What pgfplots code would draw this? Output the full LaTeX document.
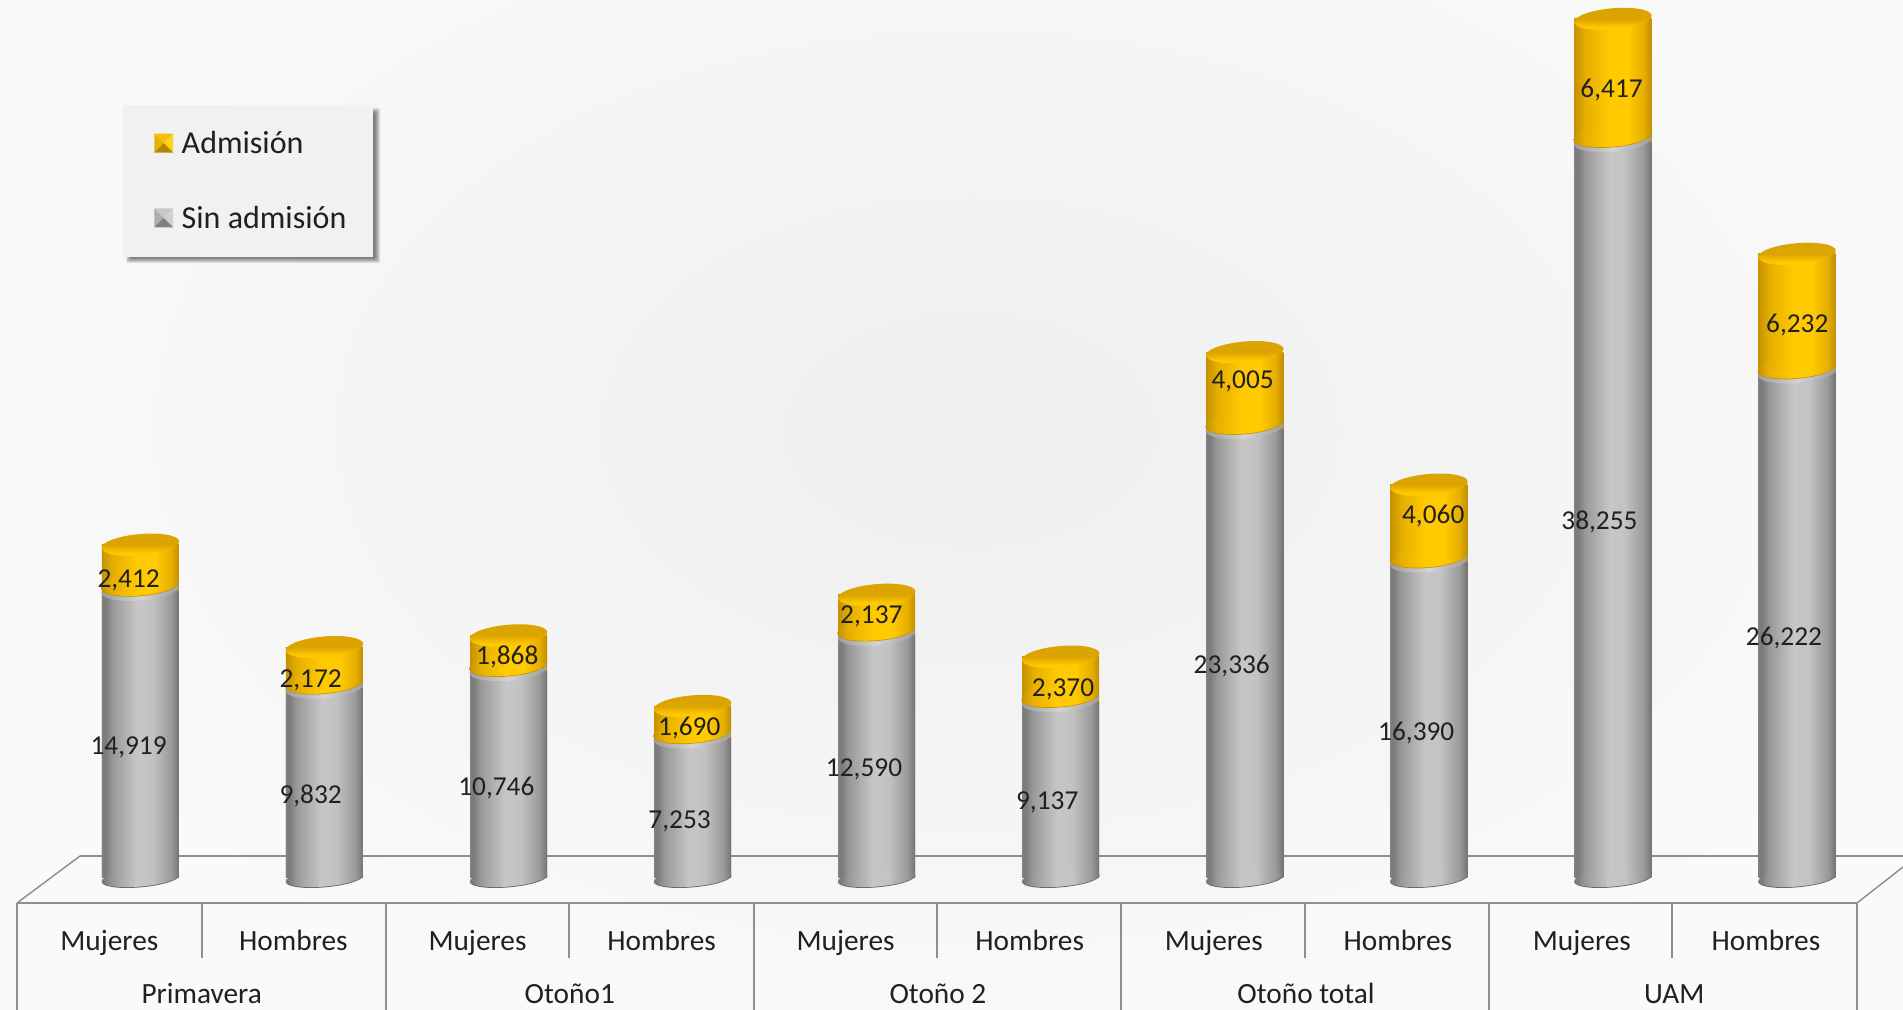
\documentclass[border=0pt]{standalone}
\usepackage{pgfplots}
\usepackage{pgfplotstable}
\usepackage{fontspec}
\setmainfont{Carlito}
\pgfplotsset{compat=1.18}
\definecolor{txt}{HTML}{202020}
\definecolor{ln}{HTML}{8F8F8F}
\pgfdeclarehorizontalshading{greyh}{100bp}{color(0bp)=(black!50);color(25bp)=(black!50);color(27bp)=(black!52);color(32bp)=(black!40);color(48bp)=(black!22);color(58bp)=(black!24);color(70bp)=(black!40);color(75bp)=(black!55);color(100bp)=(black!55)}
\definecolor{g1}{HTML}{C49200}\definecolor{g2}{HTML}{E6AE00}\definecolor{g3}{HTML}{FFCA00}\definecolor{g4}{HTML}{C08E00}
\pgfdeclarehorizontalshading{goldh}{100bp}{color(0bp)=(g1);color(25bp)=(g1);color(32bp)=(g2);color(48bp)=(g3);color(60bp)=(g3);color(70bp)=(g2);color(75bp)=(g4);color(100bp)=(g4)}
\definecolor{t1}{HTML}{DCA400}\definecolor{t2}{HTML}{FFC800}
\pgfdeclareverticalshading{goldtop}{100bp}{color(0bp)=(t2);color(25bp)=(t2);color(34bp)=(t2);color(50bp)=(t1);color(75bp)=(t1);color(100bp)=(t1)}
\definecolor{r1}{HTML}{9C9C9C}\definecolor{r2}{HTML}{D4D4D4}
\pgfdeclarehorizontalshading{rimh}{100bp}{color(0bp)=(r1);color(25bp)=(r1);color(50bp)=(r2);color(75bp)=(r1);color(100bp)=(r1)}
% cylinder caps, placed by pgfplots at the data points
\newcommand{\capell}[3]{\pgfscope\pgftransformrotate{5}\pgfpathellipse{\pgfqpoint{0pt}{#1}}{\pgfqpoint{#2}{0pt}}{\pgfqpoint{0pt}{#3}}}
\pgfdeclareplotmark{basecap}{\capell{-0.6pt}{29.1pt}{6.4pt}\pgfsetfillcolor{black!62}\pgfusepath{fill}\endpgfscope
 \capell{0pt}{29.2pt}{6.4pt}\pgfshadepath{greyh}{0}\pgfusepath{discard}\endpgfscope}
\pgfdeclareplotmark{rimcap}{\capell{1pt}{29.2pt}{8pt}\pgfshadepath{rimh}{0}\pgfusepath{discard}\endpgfscope}
\pgfdeclareplotmark{goldbot}{\capell{4pt}{29.1pt}{7.8pt}\pgfsetfillcolor{g4}\pgfusepath{fill}\endpgfscope
 \capell{4.5pt}{29.2pt}{7.8pt}\pgfshadepath{goldh}{0}\pgfusepath{discard}\endpgfscope}
\pgfdeclareplotmark{goldcap}{\capell{0pt}{29.2pt}{8pt}\pgfshadepath{goldtop}{0}\pgfusepath{discard}\endpgfscope}
\pgfplotstableread{
x grey gold sum zero
0 14919 2412 17331 0
1 9832 2172 12004 0
2 10746 1868 12614 0
3 7253 1690 8943 0
4 12590 2137 14727 0
5 9137 2370 11507 0
6 23336 4005 27341 0
7 16390 4060 20450 0
8 38255 6417 44672 0
9 26222 6232 32454 0
}\datatbl
\pgfplotstableread{
x y label
-0.0639 6908 14,919
-0.0639 15618 2,412
0.9251 4384 9,832
0.9251 10379 2,172
1.9338 4826 10,746
1.9932 11643 1,868
2.9293 3057 7,253
2.9821 7919 1,690
3.9315 5772 12,590
3.9711 13723 2,137
4.9269 4067 9,137
5.0127 9937 2,370
5.9293 11138 23,336
5.9885 25969 4,005
6.9316 7665 16,390
7.0240 18959 4,060
7.9270 18647 38,255
7.9929 41111 6,417
8.9293 12589 26,222
9.0016 28871 6,232
}\labtbl
\pgfplotsset{base/.style={at={(0,0)},anchor=south west,scale only axis,width=1427.25pt,height=677.25pt,
 xmin=-0.76275,xmax=9.5757,ymin=-1300,ymax=45656,clip=false,axis line style={draw=none},ytick=\empty,
 major tick length=0pt},
 greybar/.style={shade,shading=greyh,draw=none},goldbar/.style={shade,shading=goldh,draw=none}}
\newcommand{\px}[2]{({#1*0.75pt},{(903-#2)*0.75pt})}
\newcommand{\pyr}[4]{%
 \fill[#1,draw=none] (0,-7.1pt) -- (0,7.1pt) -- (7.1pt,0) -- cycle;
 \fill[#2,draw=none] (0,7.1pt) -- (14.2pt,7.1pt) -- (7.1pt,0) -- cycle;
 \fill[#3,draw=none] (14.2pt,7.1pt) -- (14.2pt,-7.1pt) -- (7.1pt,0) -- cycle;
 \fill[#4,draw=none] (0,-7.1pt) -- (14.2pt,-7.1pt) -- (7.1pt,0) -- cycle;
 \path[draw=none,fill=none] (0,0) rectangle (18.6pt,0.1pt);}
\definecolor{pa}{HTML}{E8B000}\definecolor{pb}{HTML}{F5C000}\definecolor{pc}{HTML}{FFD21E}\definecolor{pd}{HTML}{B48600}
\begin{document}
\begin{tikzpicture}[font=\fontsize{22}{26}\selectfont]
\useasboundingbox (0,-80.25pt) rectangle (1427.25pt,677.25pt);
\clip (0,-80.25pt) rectangle (1427.25pt,677.25pt);
\shade[inner color=black!6.5,outer color=black!2] \px{-60}{-220} rectangle \px{2000}{1080};
% floor and category grid
\begin{scope}[draw=ln,line width=1.1pt]
\draw \px{17}{903} -- \px{1857}{903};
\draw \px{80}{856} -- \px{1903}{856};
\draw \px{17}{903} -- \px{80}{856};
\draw \px{1857}{903} -- \px{1903}{867};
\foreach \v in {17,386,754,1121,1489,1857}{\draw \px{\v}{903} -- \px{\v}{1012};}
\foreach \v in {202,569,937,1305,1672}{\draw \px{\v}{903} -- \px{\v}{958};}
\end{scope}
% legend panel and its soft shadow
\foreach \a/\b/\c/\d in {126/108/380/263,127/109/379/262,128/110/378/261,129/111/377/260,130/112/376/259,131/113/375/258}{
 \fill[black,opacity=.1,rounded corners=1pt] \px{\a}{\b} rectangle \px{\c}{\d};
}
\fill[black!5.5] \px{123}{105} rectangle \px{373}{257};
\begin{axis}[base,ybar,bar shift=0pt,bar width=57.75pt,xtick=\empty]
% each bar is its own plot so that it gets its own cylinder shading;
% the gold bar runs to the stack total, the grey bar is drawn over it
\addplot[goldbar] coordinates {(0,17331)};
\addplot[goldbar] coordinates {(1,12004)};
\addplot[goldbar] coordinates {(2,12614)};
\addplot[goldbar] coordinates {(3,8943)};
\addplot[goldbar] coordinates {(4,14727)};
\addplot[goldbar] coordinates {(5,11507)};
\addplot[goldbar] coordinates {(6,27341)};
\addplot[goldbar] coordinates {(7,20450)};
\addplot[goldbar] coordinates {(8,44672)};
\addplot[goldbar] coordinates {(9,32454)};
\addplot[greybar] coordinates {(0,14919)};
\addplot[greybar] coordinates {(1,9832)};
\addplot[greybar] coordinates {(2,10746)};
\addplot[greybar] coordinates {(3,7253)};
\addplot[greybar] coordinates {(4,12590)};
\addplot[greybar] coordinates {(5,9137)};
\addplot[greybar] coordinates {(6,23336)};
\addplot[greybar] coordinates {(7,16390)};
\addplot[greybar] coordinates {(8,38255)};
\addplot[greybar] coordinates {(9,26222)};
\end{axis}
\begin{axis}[base,
 xtick={-0.1684,0.8316,1.8316,2.8316,3.8316,4.8316,5.8316,6.8316,7.8316,8.8316},
 xticklabels={Mujeres,Hombres,Mujeres,Hombres,Mujeres,Hombres,Mujeres,Hombres,Mujeres,Hombres},
 x tick label style={anchor=base,yshift=-35.5pt,text=txt},
 nodes near coords style={anchor=center,yshift=-1.8pt,text=txt,font=\fontsize{20.5}{24}\selectfont},
 legend cell align=left,
 legend style={at={(0.06463,0.8837)},anchor=north west,draw=none,fill=none,
  inner xsep=23.25pt,inner ysep=17.25pt,row sep=34pt,
  font=\fontsize{24}{28}\selectfont,text=txt},
]
\addlegendimage{legend image code/.code={\pyr{pa}{pb}{pc}{pd}}}
\addlegendentry{Admisión}
\addlegendimage{legend image code/.code={\pyr{black!32}{black!22}{black!18}{black!50}}}
\addlegendentry{Sin admisión}
\addplot[only marks,mark=basecap,forget plot] table[x=x,y=zero]{\datatbl};
\addplot[only marks,mark=rimcap,forget plot] table[x=x,y=grey]{\datatbl};
\addplot[only marks,mark=goldbot,forget plot] table[x=x,y=grey]{\datatbl};
\addplot[only marks,mark=goldcap,forget plot] table[x=x,y=sum]{\datatbl};
\addplot[draw=none,mark=none,forget plot,nodes near coords,point meta=explicit symbolic] table[x=x,y=y,meta=label]{\labtbl};
\node[anchor=base,text=txt,inner sep=0pt,outer sep=0pt,text depth=0pt] at (axis cs:0.333,-6500) {Primavera};
\node[anchor=base,text=txt,inner sep=0pt,outer sep=0pt,text depth=0pt] at (axis cs:2.333,-6500) {Otoño1};
\node[anchor=base,text=txt,inner sep=0pt,outer sep=0pt,text depth=0pt] at (axis cs:4.333,-6500) {Otoño 2};
\node[anchor=base,text=txt,inner sep=0pt,outer sep=0pt,text depth=0pt] at (axis cs:6.333,-6500) {Otoño total};
\node[anchor=base,text=txt,inner sep=0pt,outer sep=0pt,text depth=0pt] at (axis cs:8.333,-6500) {UAM};
\end{axis}
\end{tikzpicture}
\end{document}
